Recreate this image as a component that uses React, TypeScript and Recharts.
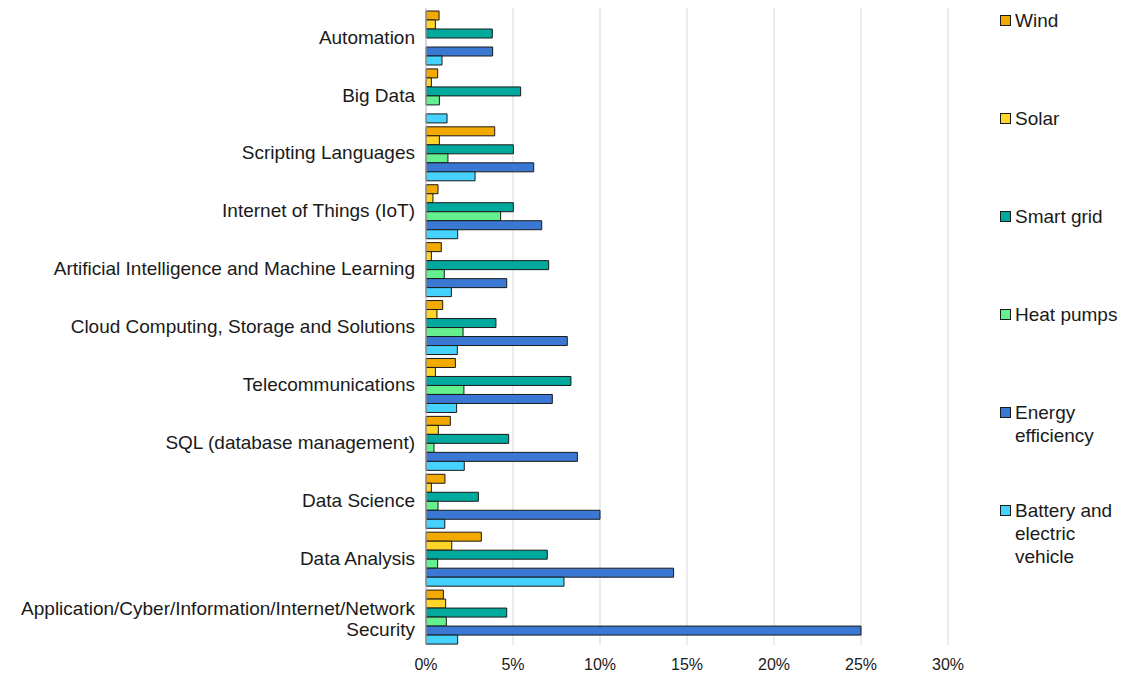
import React from 'react';
import { BarChart, Bar, XAxis, YAxis, CartesianGrid, Legend } from 'recharts';

// categories top to bottom
const categories = [
  'Automation',
  'Big Data',
  'Scripting Languages',
  'Internet of Things (IoT)',
  'Artificial Intelligence and Machine Learning',
  'Cloud Computing, Storage and Solutions',
  'Telecommunications',
  'SQL (database management)',
  'Data Science',
  'Data Analysis',
  'Application/Cyber/Information/Internet/Network Security',
];

// values in percent
const wind = [0.75, 0.67, 3.95, 0.69, 0.88, 0.96, 1.69, 1.4, 1.09, 3.18, 1.0];
const solar = [0.54, 0.31, 0.77, 0.4, 0.31, 0.63, 0.54, 0.71, 0.31, 1.48, 1.13];
const smartGrid = [3.81, 5.44, 5.02, 5.02, 7.05, 4.02, 8.33, 4.75, 3.01, 6.97, 4.64];
const heatPumps = [0, 0.77, 1.26, 4.29, 1.05, 2.13, 2.18, 0.46, 0.69, 0.67, 1.17];
const energyEfficiency = [3.83, 0, 6.19, 6.65, 4.64, 8.12, 7.26, 8.7, 10.0, 14.23, 25.0];
const battery = [0.92, 1.21, 2.82, 1.82, 1.46, 1.8, 1.76, 2.2, 1.08, 7.93, 1.82];

const xTicks = [0, 5, 10, 15, 20, 25, 30];

const series = [
  { key: 'wind', name: 'Wind', color: '#f2a900' },
  { key: 'solar', name: 'Solar', color: '#ffd52a' },
  { key: 'smartGrid', name: 'Smart grid', color: '#00a99d' },
  { key: 'heatPumps', name: 'Heat pumps', color: '#66ef8e' },
  { key: 'energyEfficiency', name: 'Energy\nefficiency', color: '#3a78d4' },
  { key: 'battery', name: 'Battery and\nelectric\nvehicle', color: '#46d2ff' },
];

const data = categories.map((category, i) => ({
  category,
  wind: wind[i],
  solar: solar[i],
  smartGrid: smartGrid[i],
  heatPumps: heatPumps[i],
  energyEfficiency: energyEfficiency[i],
  battery: battery[i],
}));

const FONT = '"Liberation Sans", Arial, Helvetica, sans-serif';

function splitLabel(label: string): string[] {
  if (label.length <= 46) return [label];
  const cut = label.lastIndexOf(' ');
  return [label.slice(0, cut), label.slice(cut + 1)];
}

function CategoryTick(props: any) {
  const { x, y, payload } = props;
  const lines = splitLabel(payload.value);
  const lh = 21;
  // wrapped label sits a touch lower in the original
  const start = lines.length > 1 ? y - lh / 2 + 3 : y;
  return (
    <text textAnchor="end" fontSize={19} fill="#1a1a1a" fontFamily={FONT}>
      {lines.map((l, i) => (
        <tspan key={i} x={x - 3} y={start + i * lh} dy="0.35em">
          {l}
        </tspan>
      ))}
    </text>
  );
}

function LegendContent() {
  return (
    <div style={{ fontFamily: FONT, fontSize: 19, color: '#1a1a1a', lineHeight: '23px', textAlign: 'left' }}>
      {series.map((s) => (
        <div key={s.key} style={{ height: 98, display: 'flex', alignItems: 'flex-start' }}>
          <span
            style={{
              width: 9,
              height: 9,
              background: s.color,
              border: '1px solid #1a1a1a',
              marginTop: 6,
              marginRight: 4,
              flex: 'none',
            }}
          />
          <span style={{ whiteSpace: 'pre' }}>{s.name}</span>
        </div>
      ))}
    </div>
  );
}

export default function App() {
  return (
    <div style={{ position: 'fixed', left: 0, top: 0, width: 1126, height: 682, background: '#fff' }}>
      <BarChart
        width={1126}
        height={682}
        data={data}
        layout="vertical"
        margin={{ top: 8, right: 178, bottom: 7, left: 0 }}
        barCategoryGap={3}
        barGap={0}
      >
        <CartesianGrid horizontal={false} stroke="#d9d9d9" />
        <XAxis
          type="number"
          domain={[0, 30]}
          ticks={xTicks}
          tickFormatter={(v) => `${v}%`}
          axisLine={false}
          tickLine={false}
          tickMargin={8}
          height={30}
          tick={{ fontSize: 16, fill: '#1a1a1a', fontFamily: FONT }}
        />
        <YAxis
          type="category"
          dataKey="category"
          width={426}
          axisLine={{ stroke: '#bfbfbf' }}
          tickLine={false}
          tick={<CategoryTick />}
          interval={0}
        />
        <Legend
          layout="vertical"
          align="center"
          verticalAlign="middle"
          content={<LegendContent />}
          wrapperStyle={{ position: 'absolute', left: 1000, top: 9, width: 126 }}
        />
        {series.map((s) => (
          <Bar
            key={s.key}
            dataKey={s.key}
            name={s.name}
            fill={s.color}
            stroke="#1a1a1a"
            strokeWidth={1}
            isAnimationActive={false}
          />
        ))}
      </BarChart>
    </div>
  );
}
